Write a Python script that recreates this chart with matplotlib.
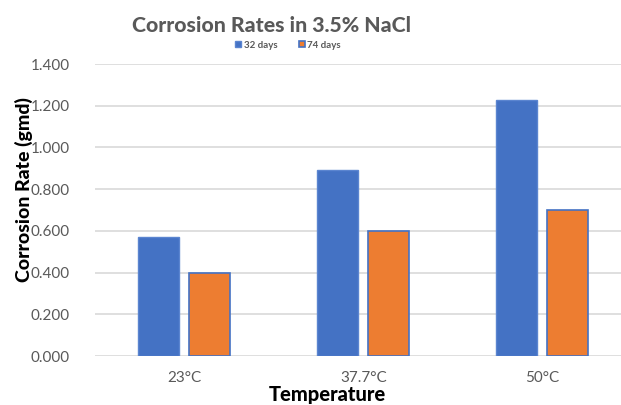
import numpy as np
import matplotlib.pyplot as plt

categories = ['23°C', '37.7°C', '50°C']
days_32 = [0.57, 0.89, 1.225]
days_74 = [0.40, 0.60, 0.70]
series_labels = ['32 days', '74 days']
yticks = [0.0, 0.2, 0.4, 0.6, 0.8, 1.0, 1.2, 1.4]

blue = '#4472C4'
orange = '#ED7D31'
grey = '#595959'

plt.rcParams['font.family'] = ['Lato', 'DejaVu Sans']

fig = plt.figure(figsize=(6.21, 4.05), dpi=100)
ax = fig.add_axes([95 / 621, 1 - 356 / 405, 526 / 621, 292 / 405])

x = np.arange(len(categories))
w = 0.23
ax.bar(x - 0.145, days_32, w, color=blue, edgecolor='#5B85D0', linewidth=1, label=series_labels[0], zorder=3)
ax.bar(x + 0.14, days_74, w, color=orange, edgecolor=blue, linewidth=1.2, label=series_labels[1], zorder=3)

ax.set_xlim(-0.5, 2.44)
ax.set_ylim(0, 1.4)
ax.set_yticks(yticks)
ax.set_yticklabels(['%.3f' % v for v in yticks], color=grey, fontsize=11)
ax.set_xticks(x)
ax.set_xticklabels(categories, color=grey, fontsize=11)
ax.tick_params(axis='both', length=0)
ax.tick_params(axis='y', pad=18)
ax.tick_params(axis='x', pad=11)
ax.grid(axis='y', color='#D9D9D9', linewidth=1.2, zorder=0)
for s in ax.spines.values():
    s.set_visible(False)

fig.text(24 / 621, 1 - 190 / 405, 'Corrosion Rate (gmd)', rotation=90, ha='center', va='center',
         fontsize=14, fontweight='black', color='black')
fig.text(327 / 621, 0.5 / 405, 'Temperature', ha='center', va='bottom',
         fontsize=14.5, fontweight='black', color='black')

fig.text(272 / 621, 1 - 25 / 405, 'Corrosion Rates in 3.5% NaCl', ha='center', va='center',
         fontsize=15.3, fontweight='black', color=grey)
fig.legend(loc='center', bbox_to_anchor=(288 / 621, 1 - 45 / 405), ncol=2, frameon=False,
           handlelength=0.6, handleheight=0.6, handletextpad=0.3, columnspacing=2.2,
           prop={'weight': 'bold', 'size': 7}, labelcolor=grey)

fig.savefig('out.png', dpi=100)
